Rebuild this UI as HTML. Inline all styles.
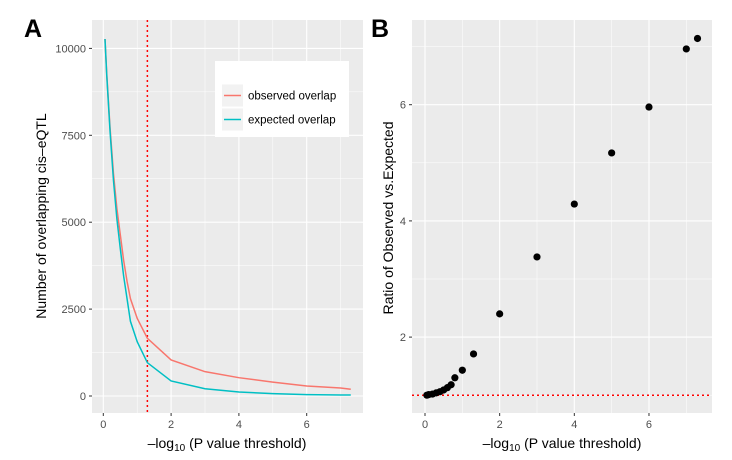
<!DOCTYPE html>
<html><head><meta charset="utf-8"><style>
body{margin:0;background:#fff;}
svg{display:block;font-family:"Liberation Sans",sans-serif;}
</style></head><body>
<svg id="fig" width="732" height="460"></svg>
<script>
const xs=[0.05,0.1,0.2,0.3,0.4,0.5,0.6,0.7,0.8,1,1.3,2,3,4,5,6,7,7.3];
const observed=[10270,9300,7700,6400,5400,4650,3900,3300,2800,2235,1660,1036,700,527,400,288,230,193];
const expected=[10270,9250,7600,6200,5100,4250,3450,2800,2150,1562,958,432,210,115,70,40,30,27];
const ratios=[1.0,1.01,1.02,1.04,1.06,1.09,1.13,1.18,1.3,1.43,1.71,2.40,3.38,4.29,5.17,5.96,6.96,7.14];
const xTicks=[0,2,4,6];
const yTicksA=[0,2500,5000,7500,10000];
const yTicksB=[2,4,6];
const threshold=1.3;

const NS="http://www.w3.org/2000/svg";
const svg=document.getElementById('fig');
function mk(t,a,p){const e=document.createElementNS(NS,t);for(const k in a)e.setAttribute(k,a[k]);(p||svg).appendChild(e);return e;}
function txt(s,a,p){const e=mk('text',a,p);e.textContent=s;return e;}

const xA=v=>103.3+v*33.9, yA=v=>396-v*0.03476;
const xB=v=>425+v*37.33, yB=v=>395.2-(v-1)*58.1;

function panel(x0,x1,y0,y1,name){
  const g=mk('g',{});
  mk('rect',{x:x0,y:y0,width:x1-x0,height:y1-y0,fill:'#EBEBEB'},g);return g;}

// ---- Panel A
const gA=panel(92,363,20,413,'panel-a');
[1,3,5,7].forEach(v=>mk('line',{x1:xA(v),x2:xA(v),y1:20,y2:413,stroke:'#fff','stroke-width':0.5},gA));
[1250,3750,6250,8750].forEach(v=>mk('line',{x1:92,x2:363,y1:yA(v),y2:yA(v),stroke:'#fff','stroke-width':0.5},gA));
xTicks.forEach(v=>{mk('line',{x1:xA(v),x2:xA(v),y1:20,y2:413,stroke:'#fff','stroke-width':1.1},gA);
  mk('line',{x1:xA(v),x2:xA(v),y1:413,y2:416,stroke:'#333'},gA);
  const t=txt(v,{x:xA(v),y:428,'font-size':11,fill:'#4D4D4D','text-anchor':'middle'},gA);
  });
yTicksA.forEach(v=>{mk('line',{x1:92,x2:363,y1:yA(v),y2:yA(v),stroke:'#fff','stroke-width':1.1},gA);
  mk('line',{x1:89,x2:92,y1:yA(v),y2:yA(v),stroke:'#333'},gA);
  const t=txt(v,{x:86,y:yA(v)+4,'font-size':11,fill:'#4D4D4D','text-anchor':'end'},gA);
  });
mk('line',{x1:xA(threshold),x2:xA(threshold),y1:20,y2:413,stroke:'#FF0000','stroke-width':1.5,'stroke-dasharray':'2,3'},gA);
const lo=mk('polyline',{points:xs.map((x,i)=>xA(x)+','+yA(observed[i])).join(' '),fill:'none',stroke:'#F8766D','stroke-width':1.5},gA);

const le=mk('polyline',{points:xs.map((x,i)=>xA(x)+','+yA(expected[i])).join(' '),fill:'none',stroke:'#00BFC4','stroke-width':1.5},gA);

const lg=mk('g',{},gA);
mk('rect',{x:215,y:61,width:134,height:76,fill:'#fff'},lg);
[['observed overlap','#F8766D',84.5],['expected overlap','#00BFC4',108.5]].forEach(([l,c,y])=>{
  mk('rect',{x:222,y:y,width:21,height:22,fill:'#F2F2F2'},lg);
  mk('line',{x1:224,x2:241,y1:y+11,y2:y+11,stroke:c,'stroke-width':1.5},lg);
  const t=txt(l,{x:248,y:y+15,'font-size':11.5,fill:'#000'},lg);
  });
let t=txt('Number of overlapping cis\u2013eQTL',{x:0,y:0,'font-size':14,'text-anchor':'middle',transform:'translate(46,216) rotate(-90)'});

t=txt('',{x:227,y:448,'font-size':14,'text-anchor':'middle'});
t.innerHTML='\u2013log<tspan font-size="10" dy="3">10</tspan><tspan dy="-3"> (P value threshold)</tspan>';

t=txt('A',{x:24,y:37,'font-size':25,'font-weight':'bold'});


// ---- Panel B
const gB=panel(412,712,20,413,'panel-b');
[1,3,5,7].forEach(v=>{mk('line',{x1:xB(v),x2:xB(v),y1:20,y2:413,stroke:'#fff','stroke-width':0.5},gB);
  mk('line',{x1:412,x2:712,y1:yB(v),y2:yB(v),stroke:'#fff','stroke-width':0.5},gB);});
xTicks.forEach(v=>{mk('line',{x1:xB(v),x2:xB(v),y1:20,y2:413,stroke:'#fff','stroke-width':1.1},gB);
  mk('line',{x1:xB(v),x2:xB(v),y1:413,y2:416,stroke:'#333'},gB);
  const t=txt(v,{x:xB(v),y:428,'font-size':11,fill:'#4D4D4D','text-anchor':'middle'},gB);
  });
yTicksB.forEach(v=>{mk('line',{x1:412,x2:712,y1:yB(v),y2:yB(v),stroke:'#fff','stroke-width':1.1},gB);
  mk('line',{x1:409,x2:412,y1:yB(v),y2:yB(v),stroke:'#333'},gB);
  const t=txt(v,{x:406,y:yB(v)+4,'font-size':11,fill:'#4D4D4D','text-anchor':'end'},gB);
  });
mk('line',{x1:412,x2:712,y1:yB(1),y2:yB(1),stroke:'#FF0000','stroke-width':1.5,'stroke-dasharray':'2,3'},gB);
xs.forEach((x,i)=>{const c=mk('circle',{cx:xB(x),cy:yB(ratios[i]),r:3.6,fill:'#000'},gB);
  });
t=txt('Ratio of Observed vs.Expected',{x:0,y:0,'font-size':14,'text-anchor':'middle',transform:'translate(393,218) rotate(-90)'});

t=txt('',{x:562,y:448,'font-size':14,'text-anchor':'middle'});
t.innerHTML='\u2013log<tspan font-size="10" dy="3">10</tspan><tspan dy="-3"> (P value threshold)</tspan>';

t=txt('B',{x:371,y:37,'font-size':25,'font-weight':'bold'});

</script>
</body></html>
